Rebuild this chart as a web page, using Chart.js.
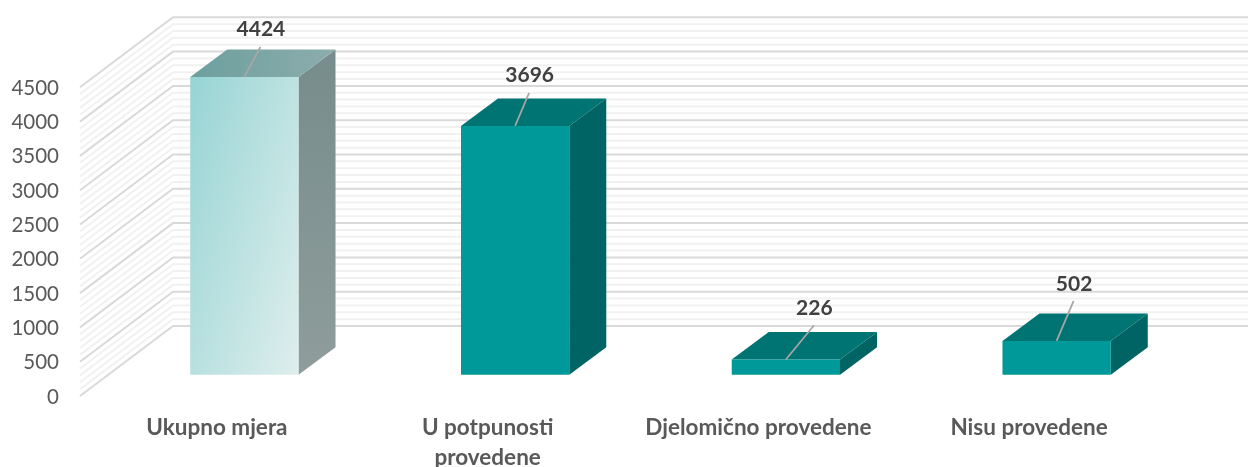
<!DOCTYPE html>
<html><head><meta charset="utf-8">
<style>html,body{margin:0;padding:0;background:#fff}canvas{display:block}</style>
<script src="https://cdn.jsdelivr.net/npm/chart.js@4"></script></head>
<body><canvas id="c" width="1248" height="467"></canvas>
<script>
const categories = ['Ukupno mjera', ['U potpunosti','provedene'], 'Djelomično provedene', 'Nisu provedene'];
const measures = [4424, 3696, 226, 502];
const yTickValues = [0,500,1000,1500,2000,2500,3000,3500,4000,4500];
const wallLineValues = [];
for (let i = 0; i <= 45; i++) wallLineValues.push(i * 100);

const WALL = {dx: 93, dy: -70};
const BAR = {dx: 37, dy: -27.5};
const leaders = [{x:16,y:-30,ty:-48},{x:14,y:-33,ty:-51},{x:28,y:-34,ty:-51},{x:17,y:-40,ty:-57}];
const styles = [
  {side:['#788E8C','#8F9D9C'], top:['#6C9F9E','#8CADAC']},
  {side:['#006464','#006464'], top:['#007373','#007373']},
  {side:['#006464','#006464'], top:['#007373','#007373']},
  {side:['#006464','#006464'], top:['#007373','#007373']}
];
function poly(ctx, pts, fill){
  ctx.beginPath(); pts.forEach((p,i)=> i?ctx.lineTo(p[0],p[1]):ctx.moveTo(p[0],p[1])); ctx.closePath();
  ctx.fillStyle = fill; ctx.fill();
}
const bar3d = {
  id:'bar3d',
  beforeDatasetsDraw(chart){
    const {ctx, scales:{y}} = chart;
    const xFront = chart.chartArea.left - 29, right = 1248;
    ctx.save();
    [false,true].forEach(major=>{
      ctx.strokeStyle = major ? '#D9D9D9' : '#F1F1F1';
      ctx.lineWidth = 2;
      wallLineValues.forEach(v=>{
        if ((v % 500 === 0) !== major) return;
        const py = y.getPixelForValue(v);
        ctx.beginPath();
        ctx.moveTo(xFront, py);
        ctx.lineTo(xFront+WALL.dx, py+WALL.dy);
        ctx.lineTo(right, py+WALL.dy);
        ctx.stroke();
      });
    });
    chart.getDatasetMeta(0).data.forEach((el,i)=>{
      const p = el.getProps(['x','y','base','width'],true);
      const l = p.x-p.width/2, r = p.x+p.width/2, s = styles[i];
      const gs = ctx.createLinearGradient(r,p.y,r+BAR.dx,p.base);
      gs.addColorStop(0,s.side[0]); gs.addColorStop(1,s.side[1]);
      poly(ctx,[[r,p.y],[r+BAR.dx,p.y+BAR.dy],[r+BAR.dx,p.base+BAR.dy],[r,p.base]],gs);
      const gt = ctx.createLinearGradient(l,p.y,r+BAR.dx,p.y);
      gt.addColorStop(0,s.top[0]); gt.addColorStop(1,s.top[1]);
      poly(ctx,[[l,p.y],[l+BAR.dx,p.y+BAR.dy],[r+BAR.dx,p.y+BAR.dy],[r,p.y]],gt);
    });
    ctx.restore();
  },
  afterDatasetsDraw(chart){
    const {ctx} = chart;
    ctx.save();
    chart.getDatasetMeta(0).data.forEach((el,i)=>{
      const p = el.getProps(['x','y'],true), o = leaders[i];
      ctx.strokeStyle='#A6A6A6'; ctx.lineWidth=1.75;
      ctx.beginPath(); ctx.moveTo(p.x,p.y); ctx.lineTo(p.x+o.x,p.y+o.y); ctx.stroke();
      ctx.fillStyle='#404040'; ctx.font='bold 21px Lato';
      ctx.textAlign='center'; ctx.textBaseline='middle';
      ctx.fillText(String(measures[i]),p.x+o.x+0.5,p.y+o.ty);
    });
    ctx.restore();
  }
};
function noPad(s){s.paddingTop=0;s.paddingBottom=0;s.paddingLeft=0;s.paddingRight=0;}
new Chart(document.getElementById('c'),{
  type:'bar',
  data:{labels:categories,datasets:[{
    data:measures, yAxisID:'yBar', xAxisID:'x', borderWidth:0,
    categoryPercentage:1, barPercentage:0.4,
    backgroundColor(c){
      if (c.dataIndex !== 0) return '#009999';
      const a = c.chart.chartArea; if(!a) return '#A9DADA';
      const xs = c.chart.scales.x, ys = c.chart.scales.yBar;
      const cx = xs.getPixelForValue(0), t = ys.getPixelForValue(measures[0]);
      const l = cx-54;
      const g = c.chart.ctx.createLinearGradient(l,t,l+180,t+54);
      g.addColorStop(0,'#97D4D4'); g.addColorStop(1,'#DEEEED');
      return g;
    }
  }]},
  plugins:[bar3d],
  options:{
    responsive:false, animation:false,
    layout:{padding:{top:16,right:56,left:0,bottom:0}},
    plugins:{legend:{display:false},tooltip:{enabled:false},title:{display:false}},
    scales:{
      x:{
        grid:{display:false}, border:{display:false},
        afterFit(s){s.height=71;noPad(s);},
        ticks:{color:'#595959',font:{family:'Lato',weight:'bold',size:22.5,lineHeight:1.33},padding:9,labelOffset:-27.5,maxRotation:0,autoSkip:false}
      },
      y:{
        position:'left', min:0, max:5539,
        grid:{display:false}, border:{display:false},
        afterBuildTicks(s){s.ticks=yTickValues.map(v=>({value:v}));},
        afterFit(s){s.width=109;noPad(s);},
        ticks:{color:'#595959',font:{family:'Lato',size:20.5},padding:42,labelOffset:1,autoSkip:false,callback:v=>String(v)}
      },
      yBar:{position:'left',display:false,min:-316.5,max:5330,afterFit:noPad}
    }
  }
});
</script></body></html>
